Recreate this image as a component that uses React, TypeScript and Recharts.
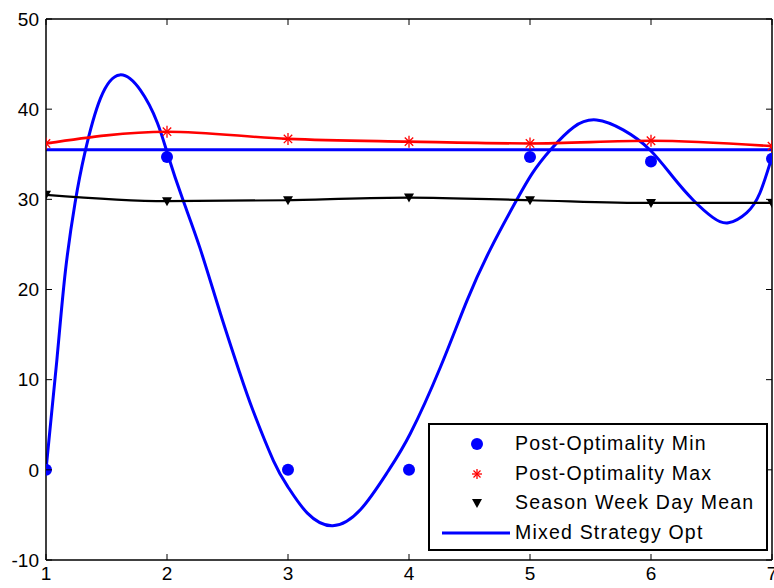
import React from "react";
import { ComposedChart, Line, Scatter, XAxis, YAxis } from "recharts";

const FONT = '"Liberation Sans", Arial, Helvetica, sans-serif';

// x ticks = days, y ticks
const days = [1, 2, 3, 4, 5, 6, 7];
const yTicks = [-10, 0, 10, 20, 30, 40, 50];

// series
const postOptMin = [0, 34.7, 0, 0, 34.7, 34.2, 34.5];
const postOptMax = [36.2, 37.5, 36.7, 36.4, 36.2, 36.5, 35.9];
const weekDayMean = [30.5, 29.8, 29.9, 30.2, 29.9, 29.6, 29.6];
const mixedOpt = [35.5, 35.5, 35.5, 35.5, 35.5, 35.5, 35.5];

// blue fitted curve, sampled by eye
const fitX = [1, 1.09, 1.16, 1.24, 1.32, 1.45, 1.61, 1.78, 1.92, 2.01, 2.13, 2.27, 2.44, 2.6, 2.71, 2.88, 3.0, 3.16, 3.37, 3.6, 3.82, 4.01, 4.26, 4.48, 4.67, 4.86, 5.02, 5.17, 5.36, 5.55, 5.77, 5.99, 6.18, 6.35, 6.51, 6.64, 6.79, 6.9, 7.0];
const fitY = [0, 12.2, 22, 29.6, 35.1, 41.2, 43.8, 42.1, 38.5, 34.8, 30.0, 24.7, 17.4, 10.8, 6.6, 1.0, -1.9, -4.8, -6.2, -4.4, -0.3, 4.0, 11.4, 18.8, 24.4, 29.2, 32.9, 35.5, 38.0, 38.8, 37.7, 35.5, 32.5, 29.9, 28.0, 27.4, 28.5, 30.7, 34.7];

const toPts = (vals: number[]) => days.map((d, i) => ({ x: d, y: vals[i] }));
const minData = toPts(postOptMin);
const maxData = toPts(postOptMax);
const meanData = toPts(weekDayMean);
const optData = toPts(mixedOpt);
const fitData = fitX.map((x, i) => ({ x, y: fitY[i] }));

const BLUE = "#0000ff";
const RED = "#ff0000";
const TICK = 6;

function Star({ cx, cy, size = 6 }: any) {
  if (cx == null || cy == null) return null;
  const d = size * 0.7;
  return (
    <g stroke={RED} strokeWidth={1.3}>
      <line x1={cx - size} y1={cy} x2={cx + size} y2={cy} />
      <line x1={cx} y1={cy - size} x2={cx} y2={cy + size} />
      <line x1={cx - d} y1={cy - d} x2={cx + d} y2={cy + d} />
      <line x1={cx - d} y1={cy + d} x2={cx + d} y2={cy - d} />
    </g>
  );
}

function Tri({ cx, cy }: any) {
  if (cx == null || cy == null) return null;
  return <path d={`M${cx - 5},${cy - 4}L${cx + 5},${cy - 4}L${cx},${cy + 5}Z`} fill="#000" />;
}

function Dot({ cx, cy }: any) {
  if (cx == null || cy == null) return null;
  return <circle cx={cx} cy={cy} r={6} fill={BLUE} />;
}

// inward tick marks (matlab style) drawn next to the labels
function BottomTick({ x, y, payload }: any) {
  return (
    <g>
      <line x1={x} y1={y} x2={x} y2={y - TICK} stroke="#000" strokeWidth={1} />
      <text x={x} y={y + 7} dy="0.71em" textAnchor="middle" fill="#000" fontSize={19} fontFamily={FONT}>
        {payload.value}
      </text>
    </g>
  );
}

function LeftTick({ x, y, payload }: any) {
  return (
    <g>
      <line x1={x} y1={y} x2={x + TICK} y2={y} stroke="#000" strokeWidth={1} />
      <text x={x - 7} y={y} dy="0.355em" textAnchor="end" fill="#000" fontSize={19} fontFamily={FONT}>
        {payload.value}
      </text>
    </g>
  );
}

function TopTick({ x, y }: any) {
  return <line x1={x} y1={y} x2={x} y2={y + TICK} stroke="#000" strokeWidth={1} />;
}

function RightTick({ x, y }: any) {
  return <line x1={x} y1={y} x2={x - TICK} y2={y} stroke="#000" strokeWidth={1} />;
}

const legendRows = [
  { name: "Post-Optimality Min", kind: "dot" },
  { name: "Post-Optimality Max", kind: "star" },
  { name: "Season Week Day Mean", kind: "tri" },
  { name: "Mixed Strategy Opt", kind: "line" },
];

function LegendBox() {
  return (
    <div
      style={{
        position: "absolute",
        left: 428,
        top: 423,
        width: 336,
        height: 124,
        border: "2px solid #000",
        background: "#fff",
        fontFamily: FONT,
        fontSize: 19.5,
        letterSpacing: 1.2,
        color: "#000",
      }}
    >
      {legendRows.map((r, i) => (
        <div key={r.name} style={{ position: "absolute", left: 0, top: 4 + i * 29.5, height: 30, width: 336 }}>
          <svg width={90} height={30} style={{ position: "absolute", left: 0, top: 0 }}>
            {r.kind === "dot" && <Dot cx={47} cy={15} />}
            {r.kind === "star" && <Star cx={47} cy={15} size={5} />}
            {r.kind === "tri" && <Tri cx={47} cy={15} />}
            {r.kind === "line" && <line x1={12} y1={15} x2={80} y2={15} stroke={BLUE} strokeWidth={3} />}
          </svg>
          <span style={{ position: "absolute", left: 85, top: 3, whiteSpace: "nowrap" }}>{r.name}</span>
        </div>
      ))}
    </div>
  );
}

export default function App() {
  const axisLine = { stroke: "#000", strokeWidth: 1.5 };
  return (
    <div style={{ position: "absolute", left: 0, top: 0, width: 774, height: 588, background: "#fff" }}>
      <ComposedChart width={774} height={588} margin={{ top: 18, right: 1, bottom: 0, left: 0 }}>
        <XAxis
          xAxisId={0}
          dataKey="x"
          type="number"
          domain={[1, 7]}
          ticks={days}
          interval={0}
          allowDataOverflow
          height={28}
          tickSize={0}
          tickMargin={0}
          tick={<BottomTick />}
          tickLine={false}
          axisLine={axisLine}
        />
        <XAxis
          xAxisId="top"
          orientation="top"
          dataKey="x"
          type="number"
          domain={[1, 7]}
          ticks={days}
          interval={0}
          allowDataOverflow
          height={1}
          tickSize={0}
          tickMargin={0}
          tick={<TopTick />}
          tickLine={false}
          axisLine={axisLine}
        />
        <YAxis
          yAxisId={0}
          type="number"
          domain={[-10, 50]}
          ticks={yTicks}
          interval={0}
          allowDataOverflow
          width={46}
          tickSize={0}
          tickMargin={0}
          tick={<LeftTick />}
          tickLine={false}
          axisLine={axisLine}
        />
        <YAxis
          yAxisId="right"
          orientation="right"
          type="number"
          domain={[-10, 50]}
          ticks={yTicks}
          interval={0}
          allowDataOverflow
          width={1}
          tickSize={0}
          tickMargin={0}
          tick={<RightTick />}
          tickLine={false}
          axisLine={axisLine}
        />
        <Line
          data={fitData}
          dataKey="y"
          type="natural"
          stroke={BLUE}
          strokeWidth={3}
          dot={false}
          activeDot={false}
          isAnimationActive={false}
          name="Mixed Strategy Opt fit"
        />
        <Line
          data={meanData}
          dataKey="y"
          type="monotone"
          stroke="#000"
          strokeWidth={2.2}
          dot={(p: any) => <Tri key={`t${p.index}`} cx={p.cx} cy={p.cy} />}
          activeDot={false}
          isAnimationActive={false}
          name="Season Week Day Mean"
        />
        <Line
          data={maxData}
          dataKey="y"
          type="monotone"
          stroke={RED}
          strokeWidth={2.6}
          dot={(p: any) => <Star key={`s${p.index}`} cx={p.cx} cy={p.cy} />}
          activeDot={false}
          isAnimationActive={false}
          name="Post-Optimality Max"
        />
        <Line
          data={optData}
          dataKey="y"
          type="linear"
          stroke={BLUE}
          strokeWidth={3}
          dot={false}
          activeDot={false}
          isAnimationActive={false}
          name="Mixed Strategy Opt"
        />
        <Scatter
          data={minData}
          dataKey="y"
          fill={BLUE}
          shape={(p: any) => <Dot cx={p.cx} cy={p.cy} />}
          isAnimationActive={false}
          name="Post-Optimality Min"
        />
      </ComposedChart>
      <LegendBox />
    </div>
  );
}
